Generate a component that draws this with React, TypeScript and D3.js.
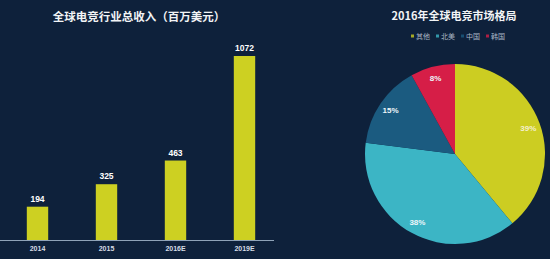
import React from "react";
import * as d3 from "d3";

const years = ["2014", "2015", "2016E", "2019E"];
const revenue = [194, 325, 463, 1072];
const regions = ["其他", "北美", "中国", "韩国"];
const shares = [39, 38, 15, 8];
const pieColors = ["#cccd22", "#3cb5c5", "#1b5b80", "#d61e47"];

const W = 550;
const H = 259;

export default function App() {
  const x = d3.scaleBand<string>().domain(years).range([3, 279]).paddingInner(0.69).paddingOuter(0.345);
  const y = d3.scaleLinear().domain([0, 1072]).range([240, 56]);

  const pie = d3.pie<number>().sort(null).value((d) => d)(shares);
  const cx = 455, cy = 154, R = 90;
  const arc = d3.arc<d3.PieArcDatum<number>>().innerRadius(0).outerRadius(R);
  const labelArc = d3.arc<d3.PieArcDatum<number>>().innerRadius(78).outerRadius(78);

  const font = "'Noto Sans CJK SC', 'Noto Sans', sans-serif";
  const legendX = [411, 436, 461, 486];

  return (
    <svg width={W} height={H} style={{ position: "absolute", left: 0, top: 0, display: "block" }} fontFamily={font}>
      <rect width={W} height={H} fill="#0e213b" />
      <text x={139} y={21} textAnchor="middle" fill="#f2f4f6" fontSize={11.5} fontWeight="bold">
        全球电竞行业总收入（百万美元）
      </text>
      {years.map((yr, i) => (
        <g key={yr}>
          <rect x={x(yr)} y={y(revenue[i])} width={x.bandwidth()} height={240 - y(revenue[i])} fill="#cdd022" />
          <text x={x(yr)! + x.bandwidth() / 2} y={y(revenue[i]) - 5} textAnchor="middle" fill="#ffffff" fontSize={8.5} fontWeight="bold" fontFamily="'Liberation Sans', Arial, sans-serif">
            {revenue[i]}
          </text>
          <text x={x(yr)! + x.bandwidth() / 2} y={251} textAnchor="middle" fill="#d6dde6" fontSize={7} fontWeight="bold" fontFamily="'Liberation Sans', Arial, sans-serif">
            {yr}
          </text>
        </g>
      ))}
      <line x1={0} x2={274} y1={240.5} y2={240.5} stroke="#8fa3b8" strokeWidth={1} />

      <text x={454} y={20} textAnchor="middle" fill="#f2f4f6" fontSize={11} fontWeight="bold">
        2016年全球电竞市场格局
      </text>
      {regions.map((r, i) => (
        <g key={r}>
          <rect x={legendX[i]} y={34.5} width={3} height={3} fill={pieColors[i]} opacity={0.8} />
          <text x={legendX[i] + 5} y={38.5} fill="#aab6c4" fontSize={7}>
            {r}
          </text>
        </g>
      ))}
      <g transform={`translate(${cx},${cy})`}>
        {pie.map((p, i) => (
          <path key={i} d={arc(p)!} fill={pieColors[i]} />
        ))}
        {pie.map((p, i) => {
          const [lx, ly] = labelArc.centroid(p);
          return (
            <text key={"l" + i} x={lx} y={ly + 3} textAnchor="middle" fill={i === 0 ? "#f4f0d0" : "#eef6fa"} fontSize={8} fontWeight="bold" fontFamily="'Liberation Sans', Arial, sans-serif">
              {shares[i]}%
            </text>
          );
        })}
      </g>
    </svg>
  );
}
